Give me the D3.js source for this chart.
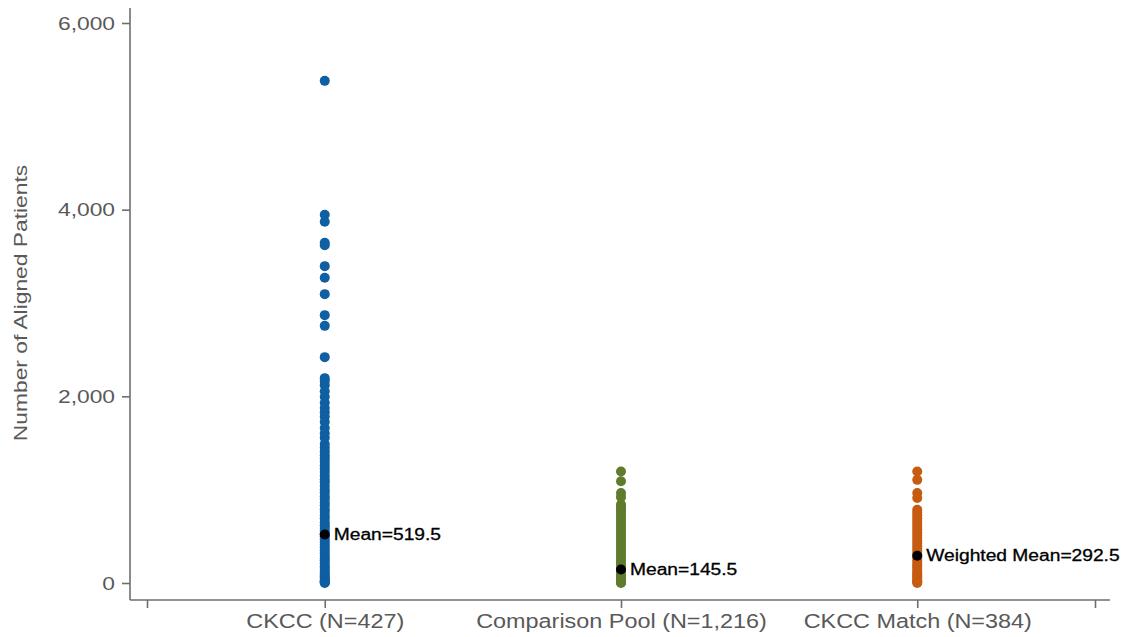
<!DOCTYPE html>
<html>
<head>
<meta charset="utf-8">
<script src="https://cdn.jsdelivr.net/npm/d3@7"></script>
<style>
  body { margin: 0; background: #fff; }
  text { font-family: "Liberation Sans", Arial, sans-serif; }
</style>
</head>
<body>
<div id="chart"></div>
<script>
// groups along the x axis
const groups = ["CKCC (N=427)", "Comparison Pool (N=1,216)", "CKCC Match (N=384)"];
const groupColors = ["#0f5fa3", "#5f7c2e", "#c65b12"];

// values (overlapping points collapse into a bar)
const ckccValues = [5380, 3945, 3870, 3645, 3620, 3395, 3270, 3095, 2870, 2755, 2420, 2195, 2165, 2120,
  2055, 1995, 1930, 1875, 1830, 1780, 1725, 1660, 1605, 1555, 1490, 1450, 1410, 1370, 1335, 1300, 1260,
  1225, 1190, 1150, 1110, 1080, 1040, 1000, 970, 930, 900, 860, 830, 790, 760, 720, 690, 650, 620, 590,
  560, 530, 500, 470, 440, 410, 380, 350, 320, 290, 260, 240, 210, 180, 160, 130, 110, 90, 70, 50, 30,
  20, 10, 5, 0];
const poolValues = [1195, 1090, 965, 920, 840, 810, 780, 750, 720, 690, 660, 630, 600, 570, 540, 510,
  480, 450, 420, 390, 360, 330, 300, 270, 240, 210, 185, 160, 135, 110, 90, 70, 50, 30, 15, 5, 0];
const matchValues = [1195, 1105, 965, 910, 785, 755, 725, 695, 665, 635, 605, 575, 545, 515, 485, 455,
  425, 395, 365, 335, 305, 275, 245, 215, 190, 165, 140, 115, 95, 75, 55, 35, 20, 10, 0];
const seriesValues = [ckccValues, poolValues, matchValues];

const meanValues = [519.5, 145.5, 292.5];
const meanLabels = ["Mean=519.5", "Mean=145.5", "Weighted Mean=292.5"];

const yTicks = [0, 2000, 4000, 6000];
const xTicks = [0.4, 1, 2, 3, 3.6];
const yTitle = "Number of Aligned Patients";

const width = 1125, height = 637;
const stretch = 1.2; // the source font runs wider than Liberation Sans

const svg = d3.select("#chart").append("svg")
  .attr("width", width)
  .attr("height", height);

const x = d3.scaleLinear().domain([0.4, 3.6]).range([147, 1095]);
const y = d3.scaleLinear().domain([0, 6000]).range([583, 23]);

function widen(sel) {
  sel.each(function () {
    const len = this.getComputedTextLength();
    d3.select(this).attr("textLength", len * stretch).attr("lengthAdjust", "spacingAndGlyphs");
  });
}

// y axis
const gy = svg.append("g")
  .attr("transform", "translate(130,0)")
  .call(d3.axisLeft(y).tickValues(yTicks).tickFormat(d3.format(",")).tickSize(8).tickPadding(7));
gy.select(".domain").attr("d", "M0,8V600");

// x axis
const gx = svg.append("g")
  .attr("transform", "translate(0,600)")
  .call(d3.axisBottom(x).tickValues(xTicks)
    .tickFormat(d => Number.isInteger(d) ? groups[d - 1] : "")
    .tickSize(8).tickPadding(6));
gx.select(".domain").attr("d", "M130,0H1110");

svg.selectAll(".domain, .tick line").attr("stroke", "#6e6e6e").attr("stroke-width", 1.6);
svg.selectAll(".tick text").attr("fill", "#595959").attr("font-size", 19).style("font-family", "Liberation Sans, Arial, sans-serif");
gx.selectAll(".tick text").attr("font-size", 19.5);
widen(svg.selectAll(".tick text"));

// y title
svg.append("text")
  .attr("transform", `translate(27,${y(3000)}) rotate(-90)`)
  .attr("text-anchor", "middle")
  .attr("fill", "#595959")
  .attr("font-size", 19)
  .text(yTitle)
  .call(widen);

// points
const cols = svg.selectAll(".col")
  .data(seriesValues)
  .join("g")
  .attr("class", "col");

cols.selectAll("circle")
  .data((vals, i) => vals.map(v => ({ v, i })))
  .join("circle")
  .attr("cx", d => x(d.i + 1))
  .attr("cy", d => y(d.v))
  .attr("r", 5)
  .attr("fill", d => groupColors[d.i]);

// mean markers
svg.selectAll(".mean")
  .data(meanValues)
  .join("circle")
  .attr("class", "mean")
  .attr("cx", (d, i) => x(i + 1))
  .attr("cy", d => y(d))
  .attr("r", 5)
  .attr("fill", "#000");

svg.selectAll(".meanlabel")
  .data(meanValues)
  .join("text")
  .attr("class", "meanlabel")
  .attr("x", (d, i) => x(i + 1) + 9)
  .attr("y", d => y(d))
  .attr("dy", "0.36em")
  .attr("font-size", 16)
  .attr("fill", "#000")
  .style("paint-order", "stroke")
  .attr("stroke", "#000")
  .attr("stroke-width", 0.3)
  .text((d, i) => meanLabels[i])
  .call(widen);
</script>
</body>
</html>
